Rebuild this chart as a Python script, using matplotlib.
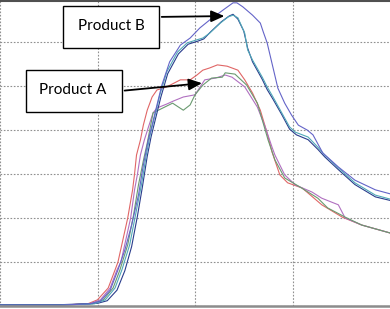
import numpy as np
import matplotlib
matplotlib.use("Agg")
from matplotlib import pyplot as plt
from matplotlib.patches import Rectangle
from matplotlib.lines import Line2D

# ---- data (time, signal) -------------------------------------------------
b1_x = [0, 62, 92, 103, 113, 121, 128, 135, 142, 147, 152, 156, 161, 166, 174, 185, 195, 205, 215,
        229, 239, 243, 249, 259, 267, 270, 274, 285, 292, 299, 306, 315, 321, 331, 347, 364, 385, 400]
b1_y = [0.2, 0.2, 0.5, 1.1, 3.6, 8.2, 12.7, 18.4, 25.2, 32.0, 37.7, 41.1, 45.7, 50.2, 55.5, 59.3, 60.9,
        63.2, 65.0, 67.3, 68.9, 68.9, 68.0, 66.1, 64.3, 62.3, 59.8, 49.5, 46.1, 43.4, 41.1, 40.0, 38.9,
        34.8, 31.6, 28.6, 26.4, 25.5]

b2_x = [0, 62, 97, 108, 118, 125, 133, 139, 145, 150, 154, 159, 164, 171, 182, 192, 202, 208, 215,
        226, 234, 239, 244, 251, 254, 259, 269, 274, 280, 289, 297, 303, 316, 326, 333, 347, 364, 385, 400]
b2_y = [0.2, 0.2, 0.5, 1.4, 4.1, 8.2, 13.9, 20.7, 27.5, 34.3, 38.9, 43.4, 48.0, 53.2, 57.7, 59.8, 60.5,
        60.9, 62.0, 64.3, 65.7, 66.1, 65.5, 62.0, 58.2, 55.9, 52.0, 49.8, 47.5, 43.9, 40.7, 39.5, 38.4,
        36.1, 34.3, 31.4, 28.0, 25.2, 24.3]

b3_x = [0, 62, 100, 110, 120, 128, 135, 141, 146, 151, 155, 160, 165, 172, 183, 193, 203, 209, 216,
        227, 235, 239, 244, 250, 254, 259, 269, 274, 280, 289, 297, 304, 316, 326, 333, 347, 364, 385, 400]
b3_y = [0.3, 0.3, 0.6, 1.2, 3.6, 8.0, 13.5, 20.5, 27.0, 34.0, 38.5, 43.0, 47.5, 52.8, 57.3, 59.5, 60.2,
        60.7, 62.3, 64.6, 65.9, 66.3, 65.2, 62.5, 58.6, 55.5, 51.5, 49.2, 47.0, 43.5, 40.2, 38.9, 37.8,
        35.6, 33.9, 31.0, 27.6, 24.8, 24.0]

a1_x = [0, 62, 90, 100, 111, 118, 121, 126, 131, 136, 138, 140, 144, 147, 151, 156, 161, 171, 185,
        195, 202, 208, 215, 223, 233, 244, 251, 259, 267, 274, 279, 287, 295, 310, 330, 351, 371, 400]
a1_y = [0.2, 0.2, 0.5, 1.4, 4.1, 8.2, 10.0, 15.0, 20.0, 26.4, 30.0, 34.3, 37.7, 41.1, 44.5, 47.5, 49.1,
        49.8, 51.4, 51.4, 52.5, 53.6, 54.1, 54.8, 54.5, 53.6, 51.4, 48.4, 44.5, 39.3, 35.0, 29.8, 28.0,
        26.8, 23.0, 20.2, 18.4, 16.6]

a2_x = [0, 62, 92, 103, 113, 120, 124, 129, 134, 138, 141, 144, 148, 152, 157, 161, 171, 178, 188,
        200, 210, 221, 231, 238, 251, 264, 272, 279, 282, 292, 303, 320, 330, 347, 354, 371, 400]
a2_y = [0.2, 0.2, 0.5, 1.4, 4.1, 8.2, 10.0, 15.0, 20.0, 26.4, 30.0, 34.3, 37.7, 40.5, 43.9, 45.0, 45.9,
        46.6, 47.5, 48.0, 51.4, 51.8, 52.5, 52.0, 49.8, 45.2, 40.7, 36.1, 34.3, 29.8, 27.5, 25.9, 24.5,
        23.0, 20.0, 18.4, 16.6]

a3_x = [0, 62, 95, 106, 116, 123, 131, 137, 142, 147, 151, 157, 177, 188, 195, 200, 208, 217, 228,
        231, 241, 253, 264, 275, 282, 292, 308, 326, 336, 354, 371, 400]
a3_y = [0.2, 0.2, 0.5, 1.4, 4.1, 8.2, 13.9, 20.7, 27.5, 33.0, 37.0, 43.9, 46.1, 44.5, 45.7, 48.0, 50.2,
        51.8, 52.0, 53.0, 52.7, 50.2, 46.1, 37.7, 33.2, 29.1, 27.0, 24.5, 22.3, 20.2, 18.4, 16.6]

series = [
    (a1_x, a1_y, "#e06666"),
    (a2_x, a2_y, "#b070c0"),
    (a3_x, a3_y, "#6a9a70"),
    (b3_x, b3_y, "#2a3c8c"),
    (b2_x, b2_y, "#50a8b8"),
    (b1_x, b1_y, "#6464c8"),
]

# ---- figure ---------------------------------------------------------------
fig = plt.figure(figsize=(3.9, 3.09), dpi=100)
ax = fig.add_axes([0, 3 / 309, 1, 308 / 309])

for xs, ys, col in series:
    ax.plot(xs, ys, color=col, linewidth=0.8)

ax.set_xlim(0, 400)
ax.set_ylim(0, 70)
ax.set_xticks(np.arange(0, 400, 100))
ax.set_yticks(np.arange(0, 71, 10))
ax.tick_params(length=0, labelbottom=False, labelleft=False)
ax.grid(True, color="#909090", linestyle=(0, (1.5, 1.5)), linewidth=0.8)
for s in ["left", "right", "top"]:
    ax.spines[s].set_visible(False)
ax.spines["bottom"].set_color("#8c8c8c")
ax.spines["bottom"].set_linewidth(1.8)

fig.add_artist(Line2D([0, 1], [0.998, 0.998], color="#505050", linewidth=1.5))

# ---- annotations ----------------------------------------------------------
font = dict(family=["Lato", "DejaVu Sans"], fontsize=11)

ax.add_patch(Rectangle((65, 58.6), 98, 9.6, facecolor="white", edgecolor="black", linewidth=1, zorder=5))
ax.text(114, 63.6, "Product B", ha="center", va="center", zorder=6, **font)
ax.annotate("", xy=(233, 65.9), xytext=(163, 65.7),
            arrowprops=dict(arrowstyle="-|>,head_length=0.8,head_width=0.35", color="black", lw=1.3),
            zorder=6)

ax.add_patch(Rectangle((27, 44.1), 98, 9.6, facecolor="white", edgecolor="black", linewidth=1, zorder=5))
ax.text(75, 49.0, "Product A", ha="center", va="center", zorder=6, **font)
ax.annotate("", xy=(210, 50.7), xytext=(125, 48.9),
            arrowprops=dict(arrowstyle="-|>,head_length=0.8,head_width=0.35", color="black", lw=1.3),
            zorder=6)

fig.savefig("out.png", dpi=100, facecolor="white")
